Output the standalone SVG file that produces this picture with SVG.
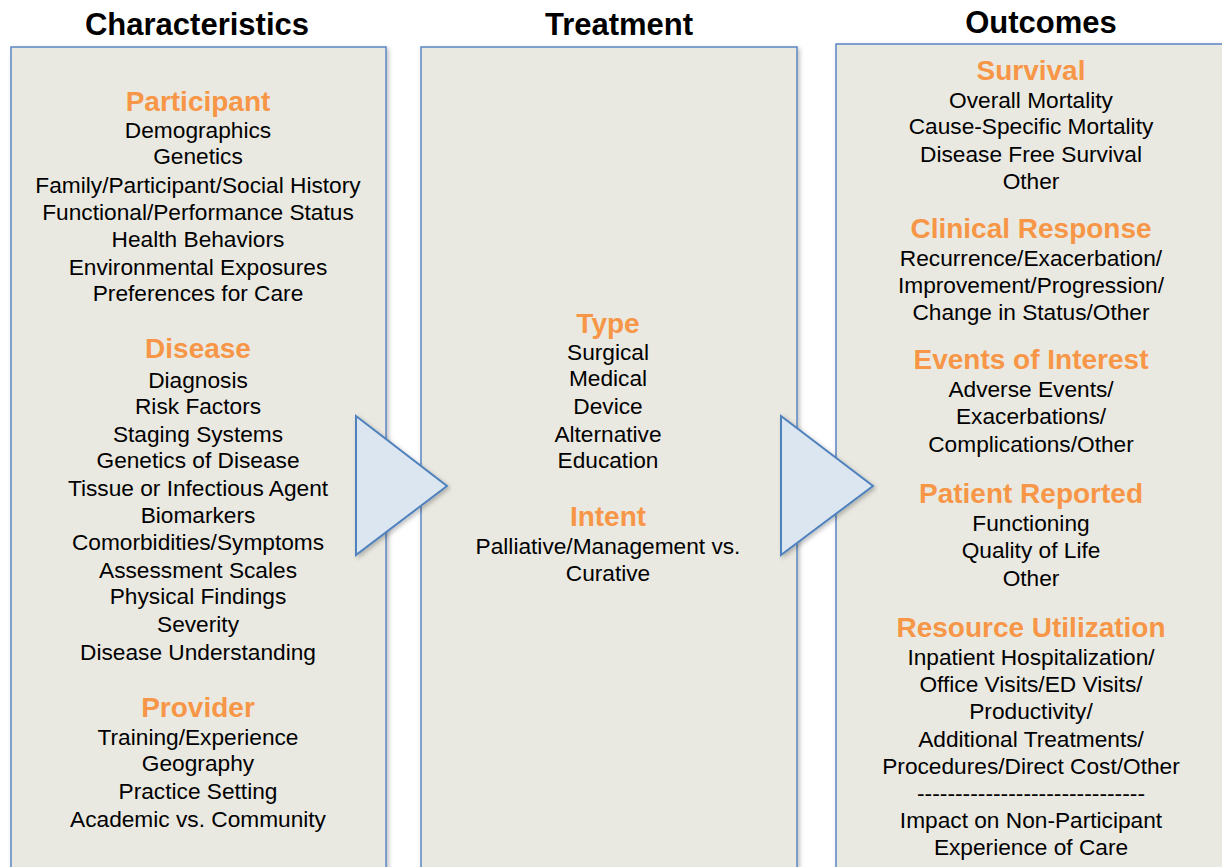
<svg xmlns="http://www.w3.org/2000/svg" width="1222" height="867" viewBox="0 0 1222 867">
<style>
.box{fill:#EAE9E1;stroke:#5B87C5;stroke-width:1.5}
.tri{fill:#DCE6F1;stroke:#4F81BD;stroke-width:2;stroke-linejoin:miter}
text{font-family:"Liberation Sans",Arial,sans-serif;text-anchor:middle}
.title{font-size:31px;font-weight:bold;fill:#000}
.hd{font-size:28px;font-weight:bold;fill:#F79646}
.it{font-size:22.7px;fill:#000}
</style>
<defs>
<filter id="sh" x="-5%" y="-5%" width="110%" height="110%">
<feDropShadow dx="2" dy="2" stdDeviation="2" flood-color="#000" flood-opacity="0.25"/>
</filter>
</defs>
<rect width="1222" height="867" fill="#FFFFFF"/>
<g id="titles">
<text class="title" x="197" y="35">Characteristics</text>
<text class="title" x="619" y="35">Treatment</text>
<text class="title" x="1041" y="33">Outcomes</text>
</g>
<g id="characteristics">
<rect class="box" x="11" y="47" width="375" height="830" filter="url(#sh)"/>
<text class="hd" x="198" y="111">Participant</text>
<text class="it" x="198" y="138">Demographics</text>
<text class="it" x="198" y="164">Genetics</text>
<text class="it" x="198" y="193">Family/Participant/Social History</text>
<text class="it" x="198" y="220">Functional/Performance Status</text>
<text class="it" x="198" y="247">Health Behaviors</text>
<text class="it" x="198" y="275">Environmental Exposures</text>
<text class="it" x="198" y="301">Preferences for Care</text>
<text class="hd" x="198" y="358">Disease</text>
<text class="it" x="198" y="388">Diagnosis</text>
<text class="it" x="198" y="414">Risk Factors</text>
<text class="it" x="198" y="442">Staging Systems</text>
<text class="it" x="198" y="468">Genetics of Disease</text>
<text class="it" x="198" y="496">Tissue or Infectious Agent</text>
<text class="it" x="198" y="523">Biomarkers</text>
<text class="it" x="198" y="550">Comorbidities/Symptoms</text>
<text class="it" x="198" y="578">Assessment Scales</text>
<text class="it" x="198" y="604">Physical Findings</text>
<text class="it" x="198" y="632">Severity</text>
<text class="it" x="198" y="660">Disease Understanding</text>
<text class="hd" x="198" y="717">Provider</text>
<text class="it" x="198" y="745">Training/Experience</text>
<text class="it" x="198" y="771">Geography</text>
<text class="it" x="198" y="799">Practice Setting</text>
<text class="it" x="198" y="827">Academic vs. Community</text>
</g>
<g id="treatment">
<rect class="box" x="421" y="47" width="376" height="830" filter="url(#sh)"/>
<text class="hd" x="608" y="333">Type</text>
<text class="it" x="608" y="360">Surgical</text>
<text class="it" x="608" y="386">Medical</text>
<text class="it" x="608" y="414">Device</text>
<text class="it" x="608" y="442">Alternative</text>
<text class="it" x="608" y="468">Education</text>
<text class="hd" x="608" y="526">Intent</text>
<text class="it" x="608" y="554">Palliative/Management vs.</text>
<text class="it" x="608" y="581">Curative</text>
</g>
<g id="outcomes">
<rect class="box" x="836" y="44" width="400" height="833" filter="url(#sh)"/>
<text class="hd" x="1031" y="80">Survival</text>
<text class="it" x="1031" y="108">Overall Mortality</text>
<text class="it" x="1031" y="134">Cause-Specific Mortality</text>
<text class="it" x="1031" y="162">Disease Free Survival</text>
<text class="it" x="1031" y="189">Other</text>
<text class="hd" x="1031" y="238">Clinical Response</text>
<text class="it" x="1031" y="266">Recurrence/Exacerbation/</text>
<text class="it" x="1031" y="293">Improvement/Progression/</text>
<text class="it" x="1031" y="320">Change in Status/Other</text>
<text class="hd" x="1031" y="369">Events of Interest</text>
<text class="it" x="1031" y="397">Adverse Events/</text>
<text class="it" x="1031" y="424">Exacerbations/</text>
<text class="it" x="1031" y="452">Complications/Other</text>
<text class="hd" x="1031" y="503">Patient Reported</text>
<text class="it" x="1031" y="531">Functioning</text>
<text class="it" x="1031" y="558">Quality of Life</text>
<text class="it" x="1031" y="586">Other</text>
<text class="hd" x="1031" y="637">Resource Utilization</text>
<text class="it" x="1031" y="665">Inpatient Hospitalization/</text>
<text class="it" x="1031" y="692">Office Visits/ED Visits/</text>
<text class="it" x="1031" y="719">Productivity/</text>
<text class="it" x="1031" y="747">Additional Treatments/</text>
<text class="it" x="1031" y="774">Procedures/Direct Cost/Other</text>
<text class="it" x="1031" y="801" textLength="228" lengthAdjust="spacingAndGlyphs">------------------------------</text>
<text class="it" x="1031" y="828">Impact on Non-Participant</text>
<text class="it" x="1031" y="855">Experience of Care</text>
</g>
<g id="connectors">
<polygon class="tri" points="356,416 447,486 356,555" filter="url(#sh)"/>
<polygon class="tri" points="781,416 873,486 781,555" filter="url(#sh)"/>
</g>
</svg>
